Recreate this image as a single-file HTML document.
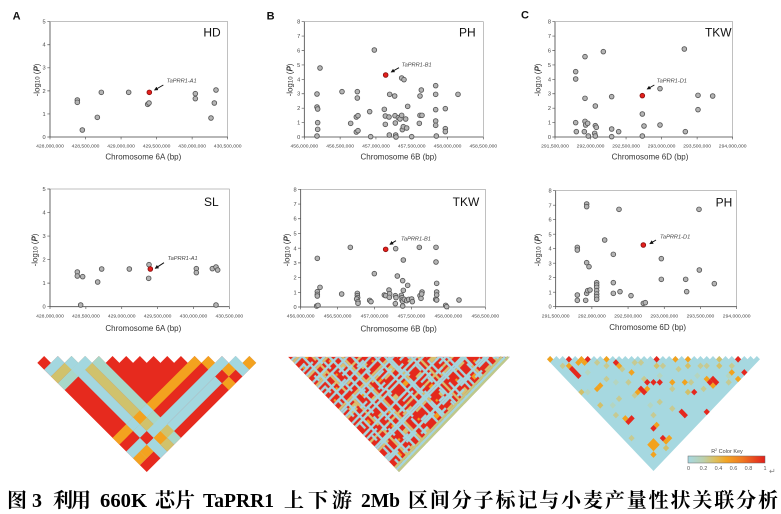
<!DOCTYPE html>
<html><head><meta charset="utf-8"><style>
html,body{margin:0;padding:0;background:#fff;}
svg{display:block;}
.p{fill:#b5b5b5;stroke:#555;stroke-width:2.6}
.r{fill:#e4201c;stroke:#8a1010;stroke-width:2.6}
.ax{stroke:#555;stroke-width:2.5;fill:none}
.bx{stroke:#a0a0a0;stroke-width:2;fill:none}
.tk{stroke:#555;stroke-width:2;fill:none}
.tl{font-family:"Liberation Sans",sans-serif;font-size:15px;fill:#444;text-anchor:middle}
.yl{font-family:"Liberation Sans",sans-serif;font-size:17px;fill:#444;text-anchor:end}
.tt{font-family:"Liberation Sans",sans-serif;font-size:24px;fill:#333;text-anchor:middle}
.tr{font-family:"Liberation Sans",sans-serif;font-size:36px;fill:#111}
.pl{font-family:"Liberation Sans",sans-serif;font-size:33px;font-weight:bold;fill:#111}
.an{font-family:"Liberation Sans",sans-serif;font-size:17px;font-style:italic;fill:#444}
.aw{stroke:#111;stroke-width:3;fill:none}
.cap{font-family:"Liberation Serif","Noto Serif CJK SC",serif;font-weight:bold;font-size:20px;fill:#000}
</style></head><body>
<svg width="781" height="514" viewBox="0 0 781 514" xmlns="http://www.w3.org/2000/svg">
<defs>
<marker id="ah" viewBox="0 0 10 10" refX="8" refY="5" markerWidth="4" markerHeight="4" orient="auto"><path d="M0,0L10,5L0,10z" fill="#111"/></marker>
<linearGradient id="ck" x1="0" x2="1" y1="0" y2="0">
<stop offset="0" stop-color="#a6d8e2"/><stop offset="0.2" stop-color="#bcd0ac"/><stop offset="0.35" stop-color="#dcc060"/><stop offset="0.5" stop-color="#f2a424"/><stop offset="0.7" stop-color="#f07a22"/><stop offset="1" stop-color="#e2201c"/>
</linearGradient>
<pattern id="pb1" patternUnits="userSpaceOnUse" width="23" height="19">
<rect width="23" height="19" fill="#e4281c"/>
<g fill="#d8c070">
<rect x="0" y="3" width="9" height="1"/><rect x="12" y="3" width="11" height="1"/><rect x="7" y="0" width="1" height="10"/><rect x="7" y="13" width="1" height="6"/><rect x="0" y="12" width="23" height="1"/><rect x="16" y="0" width="1" height="19"/><rect x="3" y="15" width="4" height="2"/><rect x="19" y="6" width="3" height="2"/><rect x="10" y="7" width="3" height="1"/><rect x="18" y="14" width="5" height="1"/><rect x="0" y="17" width="6" height="1"/><rect x="12" y="0" width="3" height="2"/>
</g>
<g fill="#f2a020">
<rect x="4" y="5" width="2" height="2"/><rect x="11" y="14" width="2" height="2"/><rect x="20" y="16" width="2" height="1"/><rect x="1" y="8" width="1" height="1"/><rect x="14" y="9" width="1" height="1"/><rect x="9" y="1" width="1" height="1"/><rect x="21" y="1" width="1" height="1"/>
</g>
</pattern>
<pattern id="pb2" patternUnits="userSpaceOnUse" width="11" height="13">
<g fill="#a3d6df">
<rect x="0" y="2" width="11" height="1"/><rect x="4" y="0" width="1" height="13"/><rect x="0" y="9" width="6" height="1"/><rect x="8" y="5" width="1" height="8"/><rect x="0" y="7" width="3" height="1"/><rect x="7" y="11" width="4" height="1"/><rect x="9" y="0" width="1" height="4"/>
</g>
</pattern>
<pattern id="pb3" patternUnits="userSpaceOnUse" width="17" height="7">
<g fill="#a3d6df">
<rect x="0" y="4" width="17" height="1"/><rect x="12" y="0" width="1" height="7"/><rect x="2" y="0" width="1" height="3"/>
</g>
</pattern>
</defs>
<rect width="781" height="514" fill="#fff"/>

<!-- ===== Panel A top (HD) ===== -->
<g transform="translate(0,0) scale(0.333333)">
<rect class="bx" x="150" y="65" width="533" height="346"/>
<path class="ax" d="M150,65V411H683"/>
<path class="tk" d="M142,411H150M142,341.8H150M142,272.6H150M142,203.4H150M142,134.2H150M142,65H150M150,411V418M256.6,411V418M363.2,411V418M469.8,411V418M576.4,411V418M683,411V418"/>
<text class="yl" x="137" y="417">0</text><text class="yl" x="137" y="348">1</text><text class="yl" x="137" y="279">2</text><text class="yl" x="137" y="209">3</text><text class="yl" x="137" y="140">4</text><text class="yl" x="137" y="71">5</text>
<text class="tl" x="150" y="442">428,000,000</text><text class="tl" x="256.6" y="442">428,500,000</text><text class="tl" x="363.2" y="442">429,000,000</text><text class="tl" x="469.8" y="442">429,500,000</text><text class="tl" x="576.4" y="442">430,000,000</text><text class="tl" x="683" y="442">430,500,000</text>
<text class="tt" x="430" y="478">Chromosome 6A (bp)</text>
<text class="tt" transform="translate(118,240) rotate(-90)">-log<tspan font-size="18">10</tspan> (<tspan font-weight="bold" font-style="italic">P</tspan>)</text>
<text class="tr" x="610" y="110">HD</text>
<text class="pl" x="38" y="58">A</text>
<circle class="p" r="7" cx="232" cy="300"/><circle class="p" r="7" cx="232" cy="307"/><circle class="p" r="7" cx="247" cy="390"/><circle class="p" r="7" cx="292" cy="352"/><circle class="p" r="7" cx="304" cy="277"/><circle class="p" r="7" cx="386" cy="277"/><circle class="p" r="7" cx="443" cy="313"/><circle class="p" r="7" cx="447" cy="309"/><circle class="p" r="7" cx="586" cy="281"/><circle class="p" r="7" cx="586" cy="296"/><circle class="p" r="7" cx="633" cy="354"/><circle class="p" r="7" cx="643" cy="309"/><circle class="p" r="7" cx="648" cy="270"/>
<circle class="r" r="7" cx="448" cy="277"/>
<path class="aw" d="M490,255L464,270" marker-end="url(#ah)"/>
<text class="an" x="500" y="248">TaPRR1-A1</text>
</g>

<!-- ===== Panel A middle (SL) ===== -->
<g transform="translate(0,170) scale(0.333333)">
<rect class="bx" x="150" y="57" width="538" height="353"/>
<path class="ax" d="M150,57V410H688"/>
<path class="tk" d="M142,410H150M142,339.4H150M142,268.8H150M142,198.2H150M142,127.6H150M142,57H150M150,410V417M257.6,410V417M365.2,410V417M472.8,410V417M580.4,410V417M688,410V417"/>
<text class="yl" x="137" y="416">0</text><text class="yl" x="137" y="345">1</text><text class="yl" x="137" y="275">2</text><text class="yl" x="137" y="204">3</text><text class="yl" x="137" y="134">4</text><text class="yl" x="137" y="63">5</text>
<text class="tl" x="150" y="442">428,000,000</text><text class="tl" x="257.6" y="442">428,500,000</text><text class="tl" x="365.2" y="442">429,000,000</text><text class="tl" x="472.8" y="442">429,500,000</text><text class="tl" x="580.4" y="442">430,000,000</text><text class="tl" x="688" y="442">430,500,000</text>
<text class="tt" x="430" y="483">Chromosome 6A (bp)</text>
<text class="tt" transform="translate(112,240) rotate(-90)">-log<tspan font-size="18">10</tspan> (<tspan font-weight="bold" font-style="italic">P</tspan>)</text>
<text class="tr" x="612" y="108">SL</text>
<circle class="p" r="7" cx="232" cy="306"/><circle class="p" r="7" cx="232" cy="318"/><circle class="p" r="7" cx="242" cy="405"/><circle class="p" r="7" cx="248" cy="320"/><circle class="p" r="7" cx="293" cy="336"/><circle class="p" r="7" cx="305" cy="297"/><circle class="p" r="7" cx="388" cy="297"/><circle class="p" r="7" cx="447" cy="284"/><circle class="p" r="7" cx="446" cy="325"/><circle class="p" r="7" cx="589" cy="296"/><circle class="p" r="7" cx="589" cy="308"/><circle class="p" r="7" cx="637" cy="296"/><circle class="p" r="7" cx="648" cy="291"/><circle class="p" r="7" cx="653" cy="300"/><circle class="p" r="7" cx="648" cy="405"/>
<circle class="r" r="7" cx="451" cy="297"/>
<path class="aw" d="M492,278L466,295" marker-end="url(#ah)"/>
<text class="an" x="503" y="270">TaPRR1-A1</text>
</g>

<!-- ===== Panel B top (PH) ===== -->
<g transform="translate(260,0) scale(0.333333)">
<rect class="bx" x="133" y="65" width="537" height="346"/>
<path class="ax" d="M133,65V411H670"/>
<path class="tk" d="M125,411H133M125,367.75H133M125,324.5H133M125,281.25H133M125,238H133M125,194.75H133M125,151.5H133M125,108.25H133M125,65H133M133,411V418M240.4,411V418M347.8,411V418M455.2,411V418M562.6,411V418M670,411V418"/>
<text class="yl" x="121" y="417">0</text><text class="yl" x="121" y="374">1</text><text class="yl" x="121" y="330">2</text><text class="yl" x="121" y="287">3</text><text class="yl" x="121" y="244">4</text><text class="yl" x="121" y="201">5</text><text class="yl" x="121" y="157">6</text><text class="yl" x="121" y="114">7</text><text class="yl" x="121" y="71">8</text>
<text class="tl" x="133" y="442">456,000,000</text><text class="tl" x="240.4" y="442">456,500,000</text><text class="tl" x="347.8" y="442">457,000,000</text><text class="tl" x="455.2" y="442">457,500,000</text><text class="tl" x="562.6" y="442">458,000,000</text><text class="tl" x="670" y="442">458,500,000</text>
<text class="tt" x="416" y="478">Chromosome 6B (bp)</text>
<text class="tt" transform="translate(98,240) rotate(-90)">-log<tspan font-size="18">10</tspan> (<tspan font-weight="bold" font-style="italic">P</tspan>)</text>
<text class="tr" x="597" y="110">PH</text>
<text class="pl" x="20" y="58">B</text>
<circle class="p" r="7" cx="171" cy="282"/><circle class="p" r="7" cx="171" cy="321"/><circle class="p" r="7" cx="173" cy="327"/><circle class="p" r="7" cx="173" cy="368"/><circle class="p" r="7" cx="173" cy="388"/><circle class="p" r="7" cx="171" cy="408"/><circle class="p" r="7" cx="180" cy="204"/><circle class="p" r="7" cx="246" cy="275"/><circle class="p" r="7" cx="272" cy="370"/><circle class="p" r="7" cx="289" cy="351"/><circle class="p" r="7" cx="294" cy="347"/><circle class="p" r="7" cx="292" cy="275"/><circle class="p" r="7" cx="292" cy="294"/><circle class="p" r="7" cx="289" cy="396"/><circle class="p" r="7" cx="294" cy="392"/><circle class="p" r="7" cx="329" cy="335"/><circle class="p" r="7" cx="332" cy="410"/><circle class="p" r="7" cx="343" cy="150"/><circle class="p" r="7" cx="373" cy="328"/><circle class="p" r="7" cx="376" cy="348"/><circle class="p" r="7" cx="376" cy="373"/><circle class="p" r="7" cx="387" cy="351"/><circle class="p" r="7" cx="389" cy="283"/><circle class="p" r="7" cx="388" cy="405"/><circle class="p" r="7" cx="404" cy="288"/><circle class="p" r="7" cx="405" cy="347"/><circle class="p" r="7" cx="406" cy="369"/><circle class="p" r="7" cx="407" cy="405"/><circle class="p" r="7" cx="408" cy="411"/><circle class="p" r="7" cx="415" cy="353"/><circle class="p" r="7" cx="420" cy="357"/><circle class="p" r="7" cx="425" cy="234"/><circle class="p" r="7" cx="432" cy="239"/><circle class="p" r="7" cx="425" cy="346"/><circle class="p" r="7" cx="427" cy="389"/><circle class="p" r="7" cx="430" cy="380"/><circle class="p" r="7" cx="437" cy="357"/><circle class="p" r="7" cx="440" cy="384"/><circle class="p" r="7" cx="443" cy="319"/><circle class="p" r="7" cx="455" cy="410"/><circle class="p" r="7" cx="478" cy="370"/><circle class="p" r="7" cx="480" cy="288"/><circle class="p" r="7" cx="480" cy="346"/><circle class="p" r="7" cx="486" cy="346"/><circle class="p" r="7" cx="484" cy="270"/><circle class="p" r="7" cx="527" cy="257"/><circle class="p" r="7" cx="527" cy="283"/><circle class="p" r="7" cx="527" cy="329"/><circle class="p" r="7" cx="527" cy="363"/><circle class="p" r="7" cx="527" cy="376"/><circle class="p" r="7" cx="529" cy="408"/><circle class="p" r="7" cx="556" cy="326"/><circle class="p" r="7" cx="556" cy="386"/><circle class="p" r="7" cx="556" cy="395"/><circle class="p" r="7" cx="594" cy="283"/>
<circle class="r" r="7" cx="377" cy="225"/>
<path class="aw" d="M417,203L394,216" marker-end="url(#ah)"/>
<text class="an" x="425" y="200">TaPRR1-B1</text>
</g>

<!-- ===== Panel B middle (TKW) ===== -->
<g transform="translate(260,170) scale(0.333333)">
<rect class="bx" x="122" y="58" width="554" height="353"/>
<path class="ax" d="M122,58V411H676"/>
<path class="tk" d="M114,411H122M114,366.9H122M114,322.75H122M114,278.6H122M114,234.5H122M114,190.4H122M114,146.25H122M114,102.1H122M114,58H122M122,411V418M232.8,411V418M343.6,411V418M454.4,411V418M565.2,411V418M676,411V418"/>
<text class="yl" x="110" y="417">0</text><text class="yl" x="110" y="373">1</text><text class="yl" x="110" y="329">2</text><text class="yl" x="110" y="285">3</text><text class="yl" x="110" y="241">4</text><text class="yl" x="110" y="196">5</text><text class="yl" x="110" y="152">6</text><text class="yl" x="110" y="108">7</text><text class="yl" x="110" y="64">8</text>
<text class="tl" x="122" y="442">456,000,000</text><text class="tl" x="232.8" y="442">456,500,000</text><text class="tl" x="343.6" y="442">457,000,000</text><text class="tl" x="454.4" y="442">457,500,000</text><text class="tl" x="565.2" y="442">458,000,000</text><text class="tl" x="676" y="442">458,500,000</text>
<text class="tt" x="416" y="485">Chromosome 6B (bp)</text>
<text class="tt" transform="translate(88,240) rotate(-90)">-log<tspan font-size="18">10</tspan> (<tspan font-weight="bold" font-style="italic">P</tspan>)</text>
<text class="tr" x="578" y="108">TKW</text>
<circle class="p" r="7" cx="172" cy="265"/><circle class="p" r="7" cx="172" cy="365"/><circle class="p" r="7" cx="172" cy="373"/><circle class="p" r="7" cx="172" cy="378"/><circle class="p" r="7" cx="170" cy="408"/><circle class="p" r="7" cx="174" cy="406"/><circle class="p" r="7" cx="180" cy="352"/><circle class="p" r="7" cx="245" cy="372"/><circle class="p" r="7" cx="271" cy="232"/><circle class="p" r="7" cx="292" cy="370"/><circle class="p" r="7" cx="292" cy="377"/><circle class="p" r="7" cx="293" cy="383"/><circle class="p" r="7" cx="290" cy="387"/><circle class="p" r="7" cx="294" cy="395"/><circle class="p" r="7" cx="294" cy="400"/><circle class="p" r="7" cx="329" cy="391"/><circle class="p" r="7" cx="333" cy="395"/><circle class="p" r="7" cx="343" cy="311"/><circle class="p" r="7" cx="373" cy="375"/><circle class="p" r="7" cx="377" cy="377"/><circle class="p" r="7" cx="387" cy="360"/><circle class="p" r="7" cx="389" cy="371"/><circle class="p" r="7" cx="388" cy="382"/><circle class="p" r="7" cx="406" cy="377"/><circle class="p" r="7" cx="408" cy="383"/><circle class="p" r="7" cx="406" cy="401"/><circle class="p" r="7" cx="412" cy="318"/><circle class="p" r="7" cx="424" cy="376"/><circle class="p" r="7" cx="426" cy="383"/><circle class="p" r="7" cx="426" cy="390"/><circle class="p" r="7" cx="428" cy="394"/><circle class="p" r="7" cx="433" cy="388"/><circle class="p" r="7" cx="430" cy="270"/><circle class="p" r="7" cx="430" cy="361"/><circle class="p" r="7" cx="428" cy="332"/><circle class="p" r="7" cx="428" cy="408"/><circle class="p" r="7" cx="407" cy="236"/><circle class="p" r="7" cx="443" cy="346"/><circle class="p" r="7" cx="440" cy="392"/><circle class="p" r="7" cx="446" cy="388"/><circle class="p" r="7" cx="455" cy="387"/><circle class="p" r="7" cx="457" cy="395"/><circle class="p" r="7" cx="478" cy="232"/><circle class="p" r="7" cx="480" cy="377"/><circle class="p" r="7" cx="483" cy="385"/><circle class="p" r="7" cx="486" cy="366"/><circle class="p" r="7" cx="485" cy="372"/><circle class="p" r="7" cx="528" cy="232"/><circle class="p" r="7" cx="528" cy="276"/><circle class="p" r="7" cx="530" cy="340"/><circle class="p" r="7" cx="530" cy="366"/><circle class="p" r="7" cx="530" cy="375"/><circle class="p" r="7" cx="527" cy="388"/><circle class="p" r="7" cx="530" cy="390"/><circle class="p" r="7" cx="557" cy="406"/><circle class="p" r="7" cx="560" cy="410"/><circle class="p" r="7" cx="597" cy="390"/>
<circle class="r" r="7" cx="377" cy="238"/>
<path class="aw" d="M408,212L390,223" marker-end="url(#ah)"/>
<text class="an" x="423" y="212">TaPRR1-B1</text>
</g>

<!-- ===== Panel C top (TKW) ===== -->
<g transform="translate(520,0) scale(0.333333)">
<rect class="bx" x="105" y="65" width="533" height="346"/>
<path class="ax" d="M105,65V411H638"/>
<path class="tk" d="M97,411H105M97,367.75H105M97,324.5H105M97,281.25H105M97,238H105M97,194.75H105M97,151.5H105M97,108.25H105M97,65H105M105,411V418M211.6,411V418M318.2,411V418M424.8,411V418M531.4,411V418M638,411V418"/>
<text class="yl" x="93" y="417">0</text><text class="yl" x="93" y="374">1</text><text class="yl" x="93" y="330">2</text><text class="yl" x="93" y="287">3</text><text class="yl" x="93" y="244">4</text><text class="yl" x="93" y="201">5</text><text class="yl" x="93" y="157">6</text><text class="yl" x="93" y="114">7</text><text class="yl" x="93" y="71">8</text>
<text class="tl" x="105" y="442">291,500,000</text><text class="tl" x="211.6" y="442">292,000,000</text><text class="tl" x="318.2" y="442">292,500,000</text><text class="tl" x="424.8" y="442">293,000,000</text><text class="tl" x="531.4" y="442">293,500,000</text><text class="tl" x="638" y="442">294,000,000</text>
<text class="tt" x="390" y="478">Chromosome 6D (bp)</text>
<text class="tt" transform="translate(62,240) rotate(-90)">-log<tspan font-size="18">10</tspan> (<tspan font-weight="bold" font-style="italic">P</tspan>)</text>
<text class="tr" x="555" y="110">TKW</text>
<text class="pl" x="3" y="56">C</text>
<circle class="p" r="7" cx="167" cy="215"/><circle class="p" r="7" cx="167" cy="237"/><circle class="p" r="7" cx="167" cy="368"/><circle class="p" r="7" cx="169" cy="395"/><circle class="p" r="7" cx="195" cy="170"/><circle class="p" r="7" cx="195" cy="295"/><circle class="p" r="7" cx="193" cy="395"/><circle class="p" r="7" cx="195" cy="364"/><circle class="p" r="7" cx="197" cy="375"/><circle class="p" r="7" cx="203" cy="370"/><circle class="p" r="7" cx="205" cy="408"/><circle class="p" r="7" cx="226" cy="318"/><circle class="p" r="7" cx="226" cy="377"/><circle class="p" r="7" cx="229" cy="382"/><circle class="p" r="7" cx="224" cy="400"/><circle class="p" r="7" cx="226" cy="408"/><circle class="p" r="7" cx="250" cy="155"/><circle class="p" r="7" cx="275" cy="290"/><circle class="p" r="7" cx="275" cy="387"/><circle class="p" r="7" cx="275" cy="410"/><circle class="p" r="7" cx="296" cy="395"/><circle class="p" r="7" cx="367" cy="342"/><circle class="p" r="7" cx="372" cy="378"/><circle class="p" r="7" cx="367" cy="408"/><circle class="p" r="7" cx="420" cy="266"/><circle class="p" r="7" cx="420" cy="375"/><circle class="p" r="7" cx="493" cy="147"/><circle class="p" r="7" cx="496" cy="395"/><circle class="p" r="7" cx="534" cy="286"/><circle class="p" r="7" cx="534" cy="329"/><circle class="p" r="7" cx="578" cy="288"/>
<circle class="r" r="7" cx="367" cy="287"/>
<path class="aw" d="M403,255L382,267" marker-end="url(#ah)"/>
<text class="an" x="410" y="247">TaPRR1-D1</text>
</g>

<!-- ===== Panel C middle (PH) ===== -->
<g transform="translate(520,170) scale(0.333333)">
<rect class="bx" x="107" y="62" width="543" height="348"/>
<path class="ax" d="M107,62V410H650"/>
<path class="tk" d="M99,410H107M99,366.5H107M99,323H107M99,279.5H107M99,236H107M99,192.5H107M99,149H107M99,105.5H107M99,62H107M107,410V417M215.6,410V417M324.2,410V417M432.8,410V417M541.4,410V417M650,410V417"/>
<text class="yl" x="95" y="416">0</text><text class="yl" x="95" y="373">1</text><text class="yl" x="95" y="329">2</text><text class="yl" x="95" y="286">3</text><text class="yl" x="95" y="242">4</text><text class="yl" x="95" y="199">5</text><text class="yl" x="95" y="155">6</text><text class="yl" x="95" y="112">7</text><text class="yl" x="95" y="68">8</text>
<text class="tl" x="107" y="442">291,500,000</text><text class="tl" x="215.6" y="442">292,000,000</text><text class="tl" x="324.2" y="442">292,500,000</text><text class="tl" x="432.8" y="442">293,000,000</text><text class="tl" x="541.4" y="442">293,500,000</text><text class="tl" x="650" y="442">294,000,000</text>
<text class="tt" x="383" y="480">Chromosome 6D (bp)</text>
<text class="tt" transform="translate(62,240) rotate(-90)">-log<tspan font-size="18">10</tspan> (<tspan font-weight="bold" font-style="italic">P</tspan>)</text>
<text class="tr" x="587" y="110">PH</text>
<circle class="p" r="7" cx="172" cy="232"/><circle class="p" r="7" cx="172" cy="240"/><circle class="p" r="7" cx="172" cy="375"/><circle class="p" r="7" cx="172" cy="391"/><circle class="p" r="7" cx="200" cy="102"/><circle class="p" r="7" cx="200" cy="110"/><circle class="p" r="7" cx="200" cy="278"/><circle class="p" r="7" cx="207" cy="290"/><circle class="p" r="7" cx="197" cy="391"/><circle class="p" r="7" cx="200" cy="370"/><circle class="p" r="7" cx="203" cy="362"/><circle class="p" r="7" cx="210" cy="360"/><circle class="p" r="7" cx="230" cy="338"/><circle class="p" r="7" cx="230" cy="345"/><circle class="p" r="7" cx="230" cy="352"/><circle class="p" r="7" cx="230" cy="362"/><circle class="p" r="7" cx="230" cy="372"/><circle class="p" r="7" cx="230" cy="380"/><circle class="p" r="7" cx="230" cy="388"/><circle class="p" r="7" cx="254" cy="210"/><circle class="p" r="7" cx="280" cy="253"/><circle class="p" r="7" cx="280" cy="338"/><circle class="p" r="7" cx="280" cy="370"/><circle class="p" r="7" cx="297" cy="118"/><circle class="p" r="7" cx="300" cy="365"/><circle class="p" r="7" cx="333" cy="377"/><circle class="p" r="7" cx="370" cy="400"/><circle class="p" r="7" cx="376" cy="398"/><circle class="p" r="7" cx="424" cy="266"/><circle class="p" r="7" cx="424" cy="328"/><circle class="p" r="7" cx="497" cy="328"/><circle class="p" r="7" cx="500" cy="365"/><circle class="p" r="7" cx="537" cy="118"/><circle class="p" r="7" cx="538" cy="300"/><circle class="p" r="7" cx="583" cy="341"/>
<circle class="r" r="7" cx="370" cy="225"/>
<path class="aw" d="M408,210L390,221" marker-end="url(#ah)"/>
<text class="an" x="420" y="205">TaPRR1-D1</text>
</g>

<!-- ===== LD heatmap A ===== -->
<g transform="matrix(6.84,-6.82,6.84,6.82,30.46,356)">
<polygon fill="#e62a1e" points="0,17 0,1 1,1 1,2 2,2 2,3 3,3 3,4 4,4 4,5 5,5 5,6 6,6 6,7 7,7 7,8 8,8 8,9 9,9 9,10 10,10 10,11 11,11 11,12 12,12 12,13 13,13 13,14 14,14 14,15 15,15 15,16 16,16 16,17"/>
<rect x="2" y="3" width="1" height="14" fill="#a3d7df"/><rect x="0" y="2" width="2" height="1" fill="#a3d7df"/>
<rect x="3" y="4" width="1" height="13" fill="#d0c26c"/><rect x="0" y="3" width="3" height="1" fill="#d0c26c"/>
<rect x="4" y="5" width="1" height="12" fill="#a8d7c8"/><rect x="0" y="4" width="4" height="1" fill="#a8d7c8"/>
<rect x="12" y="13" width="1" height="4" fill="#f3a21f"/><rect x="0" y="12" width="12" height="1" fill="#f3a21f"/>
<rect x="14" y="15" width="1" height="2" fill="#a3d7df"/><rect x="0" y="14" width="14" height="1" fill="#a3d7df"/>
<rect x="15" y="16" width="1" height="1" fill="#a3d7df"/><rect x="0" y="15" width="15" height="1" fill="#a3d7df"/>
<g fill="#a3d7df"><rect x="2" y="3" width="1" height="1"/><rect x="2" y="4" width="1" height="1"/><rect x="2" y="12" width="1" height="1"/><rect x="2" y="15" width="1" height="1"/><rect x="3" y="4" width="1" height="1"/><rect x="3" y="14" width="1" height="1"/><rect x="4" y="12" width="1" height="1"/><rect x="4" y="14" width="1" height="1"/><rect x="12" y="14" width="1" height="1"/><rect x="14" y="15" width="1" height="1"/></g>
<g fill="#e62a1e"><rect x="2" y="14" width="1" height="1"/><rect x="12" y="15" width="1" height="1"/></g>
<g fill="#f3a21f"><rect x="3" y="12" width="1" height="1"/><rect x="3" y="15" width="1" height="1"/><rect x="15" y="16" width="1" height="1"/><rect x="13" y="15" width="1" height="1"/><rect x="0" y="15" width="1" height="1"/><rect x="1" y="15" width="1" height="1"/></g>
<rect x="4" y="15" width="1" height="1" fill="#d0c26c"/>
</g>

<!-- ===== LD heatmap B ===== -->
<g transform="matrix(1.642,-1.706,1.642,1.706,287.36,356)">
<polygon fill="url(#pb1)" points="0,0.5 0,68 67.5,68"/>
<polygon fill="url(#pb2)" points="0,0.5 0,68 67.5,68"/>
<polygon fill="url(#pb3)" points="0,0.5 0,68 67.5,68"/>
<rect x="0" y="67" width="67" height="1" fill="#bfca8a"/>
<rect x="0" y="66" width="66" height="1" fill="#a3d6df"/>
<rect x="0" y="65" width="65" height="1" fill="#c8c47e"/>
</g>

<!-- ===== LD heatmap C ===== -->
<g transform="matrix(3.132,-3.286,3.132,3.286,543.87,356)">
<polygon fill="#a6d8e0" points="0,35 0,1 1,1 1,2 2,2 2,3 3,3 3,4 4,4 4,5 5,5 5,6 6,6 6,7 7,7 7,8 8,8 8,9 9,9 9,10 10,10 10,11 11,11 11,12 12,12 12,13 13,13 13,14 14,14 14,15 15,15 15,16 16,16 16,17 17,17 17,18 18,18 18,19 19,19 19,20 20,20 20,21 21,21 21,22 22,22 22,23 23,23 23,24 24,24 24,25 25,25 25,26 26,26 26,27 27,27 27,28 28,28 28,29 29,29 29,30 30,30 30,31 31,31 31,32 32,32 32,33 33,33 33,34 34,34 34,35"/>
<g fill="#c6ca92"><rect x="8" y="11" width="1" height="1"/><rect x="6" y="13" width="1" height="1"/><rect x="10" y="14" width="1" height="1"/><rect x="9" y="17" width="1" height="1"/><rect x="14" y="16" width="1" height="1"/><rect x="12" y="19" width="1" height="1"/><rect x="17" y="20" width="1" height="1"/><rect x="19" y="23" width="1" height="1"/><rect x="15" y="25" width="1" height="1"/><rect x="8" y="20" width="1" height="1"/><rect x="24" y="27" width="1" height="1"/><rect x="20" y="30" width="1" height="1"/><rect x="23" y="26" width="1" height="1"/><rect x="25" y="33" width="1" height="1"/><rect x="28" y="31" width="1" height="1"/><rect x="7" y="9" width="1" height="1"/><rect x="1" y="4" width="1" height="1"/><rect x="13" y="15" width="1" height="1"/><rect x="19" y="27" width="1" height="1"/><rect x="11" y="25" width="1" height="1"/><rect x="5" y="18" width="1" height="1"/><rect x="2" y="20" width="1" height="1"/><rect x="8" y="26" width="1" height="1"/><rect x="12" y="28" width="1" height="1"/><rect x="1" y="26" width="1" height="1"/></g>
<g fill="#b4d5c0"><rect x="4" y="9" width="1" height="1"/><rect x="7" y="15" width="1" height="1"/><rect x="15" y="21" width="1" height="1"/><rect x="21" y="27" width="1" height="1"/><rect x="3" y="18" width="1" height="1"/><rect x="9" y="24" width="1" height="1"/><rect x="1" y="12" width="1" height="1"/><rect x="26" y="32" width="1" height="1"/></g>
<g fill="#d2c06a"><rect x="27" y="28" width="1" height="1"/><rect x="21" y="24" width="1" height="1"/><rect x="26" y="29" width="1" height="1"/><rect x="16" y="19" width="1" height="1"/><rect x="0" y="11" width="1" height="1"/><rect x="1" y="16" width="1" height="1"/><rect x="17" y="28" width="1" height="1"/><rect x="5" y="33" width="1" height="1"/></g>
<g fill="#f2a21e"><rect x="0" y="1" width="1" height="1"/><rect x="5" y="6" width="1" height="1"/><rect x="9" y="10" width="1" height="1"/><rect x="20" y="21" width="1" height="1"/><rect x="22" y="23" width="1" height="1"/><rect x="2" y="5" width="1" height="1"/><rect x="4" y="6" width="1" height="1"/><rect x="5" y="7" width="1" height="1"/><rect x="10" y="13" width="1" height="1"/><rect x="11" y="16" width="1" height="1"/><rect x="16" y="24" width="1" height="1"/><rect x="18" y="26" width="1" height="1"/><rect x="22" y="31" width="1" height="1"/><rect x="22" y="29" width="1" height="1"/><rect x="27" y="32" width="1" height="1"/><rect x="27" y="34" width="1" height="1"/><rect x="11" y="21" width="1" height="1"/><rect x="9" y="20" width="1" height="1"/><rect x="3" y="13" width="1" height="1"/><rect x="4" y="13" width="1" height="1"/><rect x="3" y="22" width="1" height="1"/><rect x="7" y="28" width="1" height="1"/><rect x="7" y="32" width="1" height="1"/><rect x="6" y="32" width="1" height="1"/><rect x="3" y="30" width="2" height="2"/><rect x="2" y="32" width="1" height="1"/></g>
<g fill="#e5281e"><rect x="3" y="4" width="1" height="1"/><rect x="6" y="7" width="1" height="1"/><rect x="17" y="18" width="1" height="1"/><rect x="30" y="31" width="1" height="1"/><rect x="2" y="6" width="1" height="3"/><rect x="10" y="12" width="1" height="1"/><rect x="12" y="20" width="1" height="1"/><rect x="13" y="21" width="1" height="1"/><rect x="14" y="22" width="1" height="1"/><rect x="22" y="30" width="1" height="1"/><rect x="23" y="30" width="1" height="2"/><rect x="18" y="29" width="1" height="1"/><rect x="29" y="34" width="1" height="1"/><rect x="17" y="34" width="1" height="1"/><rect x="10" y="20" width="1" height="2"/><rect x="3" y="23" width="2" height="1"/><rect x="13" y="30" width="1" height="2"/><rect x="6" y="28" width="1" height="1"/><rect x="6" y="31" width="1" height="1"/></g>
</g>

<!-- Color key -->
<rect x="688" y="456" width="77" height="7" fill="url(#ck)" stroke="#666" stroke-width="0.5"/>
<text x="727" y="453" font-family="Liberation Sans, sans-serif" font-size="5.5" fill="#444" text-anchor="middle">R<tspan font-size="3.5" dy="-2">2</tspan><tspan dy="2"> Color Key</tspan></text>
<g font-family="Liberation Sans, sans-serif" font-size="5.5" fill="#555" text-anchor="middle">
<text x="688.5" y="470">0</text><text x="703.5" y="470">0.2</text><text x="718.5" y="470">0.4</text><text x="733.5" y="470">0.6</text><text x="748.5" y="470">0.8</text><text x="765" y="470">1</text>
</g>
<text x="769" y="474" font-family="DejaVu Sans, sans-serif" font-size="8" fill="#888">↵</text>

<!-- Caption -->
<g class="cap">
<text x="7" y="507">图</text>
<text x="32" y="507">3</text>
<text x="53" y="507" textLength="38" lengthAdjust="spacing">利用</text>
<text x="100" y="507" textLength="47" lengthAdjust="spacingAndGlyphs">660K</text>
<text x="155" y="507" textLength="40" lengthAdjust="spacing">芯片</text>
<text x="203" y="507" textLength="71" lengthAdjust="spacingAndGlyphs">TaPRR1</text>
<text x="284" y="507" textLength="68" lengthAdjust="spacing">上下游</text>
<text x="361" y="507" textLength="39" lengthAdjust="spacingAndGlyphs">2Mb</text>
<text x="408" y="507" textLength="370" lengthAdjust="spacing">区间分子标记与小麦产量性状关联分析</text>
</g>
</svg>
</body></html>
